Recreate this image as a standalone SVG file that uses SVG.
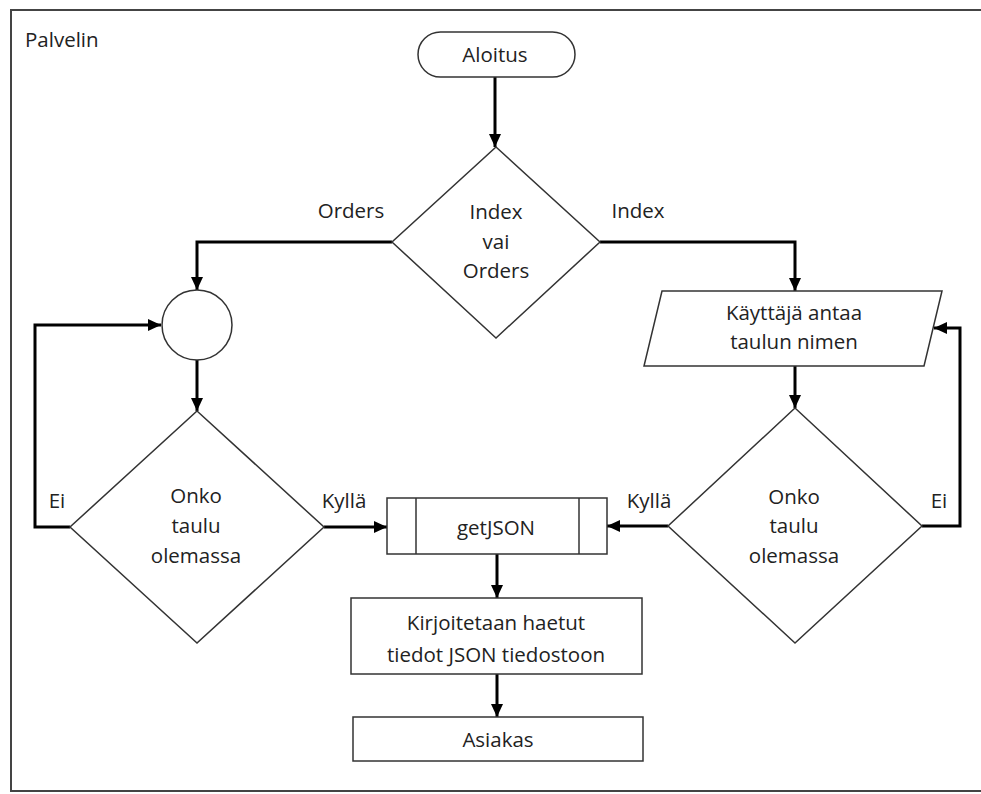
<svg xmlns="http://www.w3.org/2000/svg" width="981" height="794" viewBox="0 0 981 794">
<defs>
<style>
text{font-family:"Open Sans","DejaVu Sans",sans-serif;font-size:20.5px;fill:#222;text-anchor:middle}
.shape{fill:#fff;stroke:#333;stroke-width:1.5}
.conn{fill:none;stroke:#000;stroke-width:3}
</style>
<marker id="arr" markerUnits="userSpaceOnUse" markerWidth="14" markerHeight="14" viewBox="0 0 14 14" refX="13" refY="7" orient="auto">
<path d="M0,1 L13,7 L0,13 Z" fill="#000"/>
</marker>
</defs>
<rect x="0" y="0" width="981" height="794" fill="#fff"/>
<rect x="11" y="10" width="980" height="781" fill="none" stroke="#444" stroke-width="2"/>
<text x="25" y="47" style="text-anchor:start">Palvelin</text>

<g id="connectors">
<path class="conn" marker-end="url(#arr)" d="M495,77 V147"/>
<path class="conn" marker-end="url(#arr)" d="M392,242 H197 V290"/>
<path class="conn" marker-end="url(#arr)" d="M600,242 H795 V291"/>
<path class="conn" marker-end="url(#arr)" d="M197,360 V411"/>
<path class="conn" marker-end="url(#arr)" d="M70,527 H35 V325 H161"/>
<path class="conn" marker-end="url(#arr)" d="M324,527 H387"/>
<path class="conn" marker-end="url(#arr)" d="M795,366 V408"/>
<path class="conn" marker-end="url(#arr)" d="M922,526 H960 V328 H934"/>
<path class="conn" marker-end="url(#arr)" d="M668,526 H607"/>
<path class="conn" marker-end="url(#arr)" d="M497,554 V598"/>
<path class="conn" marker-end="url(#arr)" d="M497,674 V717"/>
<text x="351" y="218">Orders</text>
<text x="638" y="218">Index</text>
<text x="57" y="508">Ei</text>
<text x="344" y="508">Kyllä</text>
<text x="649" y="508">Kyllä</text>
<text x="939" y="508">Ei</text>
</g>

<g id="aloitus">
<rect class="shape" x="418" y="32" width="157" height="45" rx="22.5"/>
<text x="495" y="62">Aloitus</text>
</g>

<g id="indexvaiorders">
<path class="shape" d="M496,147 L600,242 L496,338 L392,242 Z"/>
<text x="496" y="219">Index</text>
<text x="496" y="249">vai</text>
<text x="496" y="278">Orders</text>
</g>

<g id="connector-circle">
<circle class="shape" cx="197" cy="325" r="35"/>
</g>

<g id="onko-left">
<path class="shape" d="M197,411 L324,527 L197,643 L70,527 Z"/>
<text x="196" y="503">Onko</text>
<text x="196" y="533">taulu</text>
<text x="196" y="563">olemassa</text>
</g>

<g id="kayttaja">
<path class="shape" d="M662,291 L942,291 L924,366 L644,366 Z"/>
<text x="794" y="320">Käyttäjä antaa</text>
<text x="794" y="349">taulun nimen</text>
</g>

<g id="onko-right">
<path class="shape" d="M795,408 L922,526 L795,643 L668,526 Z"/>
<text x="794" y="504">Onko</text>
<text x="794" y="533">taulu</text>
<text x="794" y="563">olemassa</text>
</g>

<g id="getjson">
<rect class="shape" x="387" y="498" width="220" height="56"/>
<line x1="416" y1="498" x2="416" y2="554" stroke="#333" stroke-width="1.5"/>
<line x1="579" y1="498" x2="579" y2="554" stroke="#333" stroke-width="1.5"/>
<text x="496" y="535">getJSON</text>
</g>

<g id="kirjoitetaan">
<rect class="shape" x="351" y="598" width="291" height="76"/>
<text x="496" y="630">Kirjoitetaan haetut</text>
<text x="496" y="662">tiedot JSON tiedostoon</text>
</g>

<g id="asiakas">
<rect class="shape" x="353" y="717" width="290" height="44"/>
<text x="498" y="747">Asiakas</text>
</g>
</svg>
